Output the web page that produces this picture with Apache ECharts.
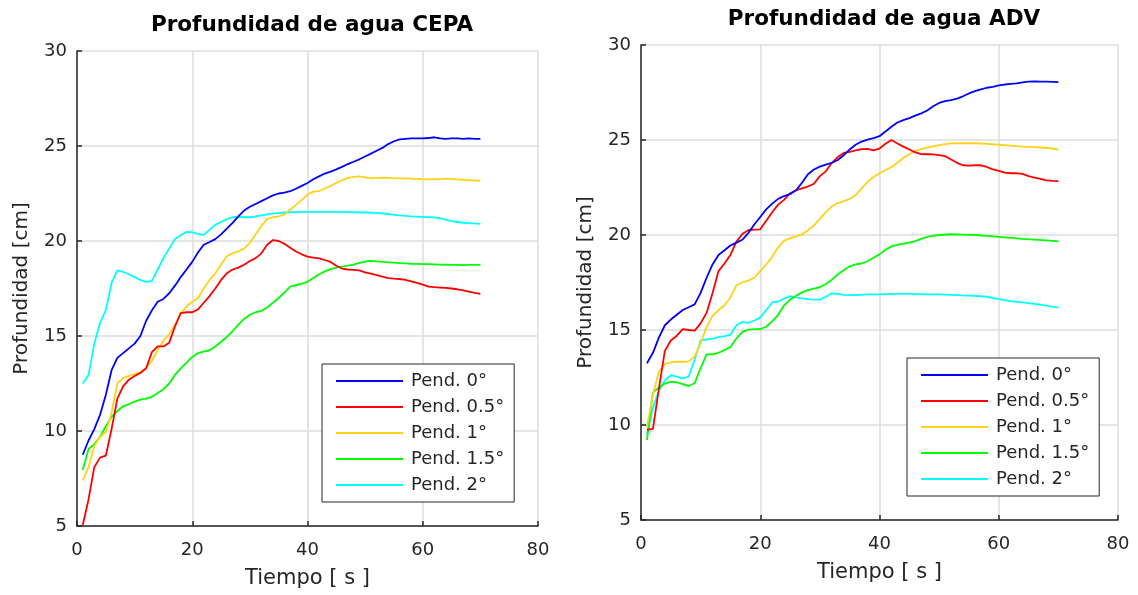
<!DOCTYPE html>
<html>
<head>
<meta charset="utf-8">
<script src="https://cdn.jsdelivr.net/npm/echarts@6/dist/echarts.min.js"></script>
<style>
html,body{margin:0;padding:0;background:#fff;}
#c{width:1138px;height:595px;}
</style>
</head>
<body>
<div id="c"></div>
<script>
const seriesNames = ['Pend. 0°', 'Pend. 0.5°', 'Pend. 1°', 'Pend. 1.5°', 'Pend. 2°'];
const seriesColors = ['#0000ff', '#ff0000', '#ffd21a', '#00ff00', '#00ffff'];
const titles = ['Profundidad de agua CEPA', 'Profundidad de agua ADV'];
const xName = 'Tiempo [ s ]';
const yName = 'Profundidad [cm]';

// CEPA: [tiempo s, profundidad cm]
const cepa0 = [[1,8.75],[2,9.5],[3,10.1],[4,10.85],[5,11.9],[6,13.2],[7,13.85],[8,14.1],[9,14.35],[10,14.6],[11,15.0],[12,15.8],[13,16.35],[14,16.8],[15,16.95],[16,17.25],[17,17.65],[18,18.1],[19,18.5],[20,18.9],[21,19.4],[22,19.8],[23,19.95],[24,20.1],[25,20.35],[26,20.65],[27,20.95],[28,21.3],[29,21.6],[30,21.8],[31,21.95],[32,22.1],[33,22.25],[34,22.4],[35,22.5],[36,22.55],[37,22.62],[38,22.75],[39,22.9],[40,23.05],[41,23.25],[42,23.4],[43,23.55],[44,23.65],[45,23.77],[46,23.9],[47,24.05],[48,24.17],[49,24.3],[50,24.45],[51,24.6],[52,24.75],[53,24.9],[54,25.1],[55,25.25],[56,25.35],[57,25.38],[58,25.4],[59,25.4],[60,25.4],[61,25.42],[62,25.46],[63,25.4],[64,25.38],[65,25.4],[66,25.4],[67,25.38],[68,25.4],[69,25.38],[70,25.38]];
const cepa05 = [[1,5.05],[2,6.4],[3,8.1],[4,8.6],[5,8.7],[6,10.1],[7,11.7],[8,12.35],[9,12.7],[10,12.9],[11,13.05],[12,13.3],[13,14.15],[14,14.45],[15,14.45],[16,14.65],[17,15.5],[18,16.2],[19,16.25],[20,16.25],[21,16.4],[22,16.75],[23,17.1],[24,17.5],[25,17.95],[26,18.3],[27,18.5],[28,18.6],[29,18.75],[30,18.95],[31,19.1],[32,19.35],[33,19.8],[34,20.05],[35,20.0],[36,19.85],[37,19.65],[38,19.45],[39,19.3],[40,19.18],[41,19.12],[42,19.08],[43,19.0],[44,18.9],[45,18.7],[46,18.55],[47,18.5],[48,18.48],[49,18.45],[50,18.35],[51,18.28],[52,18.2],[53,18.12],[54,18.05],[55,18.02],[56,18.0],[57,17.95],[58,17.88],[59,17.8],[60,17.7],[61,17.6],[62,17.57],[63,17.55],[64,17.53],[65,17.5],[66,17.46],[67,17.4],[68,17.33],[69,17.27],[70,17.22]];
const cepa1 = [[1,7.4],[2,8.1],[3,9.2],[4,9.7],[5,9.95],[6,10.95],[7,12.5],[8,12.8],[9,12.9],[10,13.0],[11,13.1],[12,13.3],[13,13.7],[14,14.25],[15,14.75],[16,15.1],[17,15.6],[18,16.2],[19,16.55],[20,16.8],[21,17.0],[22,17.5],[23,17.95],[24,18.3],[25,18.75],[26,19.2],[27,19.35],[28,19.45],[29,19.6],[30,19.9],[31,20.35],[32,20.8],[33,21.15],[34,21.25],[35,21.3],[36,21.4],[37,21.65],[38,21.9],[39,22.15],[40,22.45],[41,22.6],[42,22.63],[43,22.75],[44,22.9],[45,23.05],[46,23.2],[47,23.32],[48,23.38],[49,23.4],[50,23.35],[51,23.3],[52,23.32],[53,23.33],[54,23.32],[55,23.3],[56,23.3],[57,23.3],[58,23.28],[59,23.27],[60,23.25],[61,23.24],[62,23.25],[63,23.26],[64,23.28],[65,23.27],[66,23.24],[67,23.22],[68,23.2],[69,23.18],[70,23.17]];
const cepa15 = [[1,7.95],[2,9.05],[3,9.3],[4,9.7],[5,10.25],[6,10.75],[7,11.05],[8,11.3],[9,11.4],[10,11.55],[11,11.65],[12,11.7],[13,11.8],[14,12.0],[15,12.2],[16,12.5],[17,12.95],[18,13.3],[19,13.6],[20,13.9],[21,14.1],[22,14.18],[23,14.25],[24,14.45],[25,14.7],[26,14.95],[27,15.25],[28,15.6],[29,15.9],[30,16.12],[31,16.25],[32,16.32],[33,16.5],[34,16.75],[35,17.0],[36,17.3],[37,17.6],[38,17.68],[39,17.75],[40,17.85],[41,18.05],[42,18.25],[43,18.4],[44,18.52],[45,18.6],[46,18.65],[47,18.7],[48,18.76],[49,18.85],[50,18.92],[51,18.95],[52,18.93],[53,18.9],[54,18.88],[55,18.86],[56,18.84],[57,18.82],[58,18.8],[59,18.8],[60,18.78],[61,18.78],[62,18.77],[63,18.76],[64,18.75],[65,18.74],[66,18.74],[67,18.73],[68,18.74],[69,18.74],[70,18.74]];
const cepa2 = [[1,12.5],[2,12.95],[3,14.6],[4,15.7],[5,16.35],[6,17.8],[7,18.45],[8,18.38],[9,18.25],[10,18.1],[11,17.95],[12,17.85],[13,17.9],[14,18.5],[15,19.1],[16,19.6],[17,20.1],[18,20.3],[19,20.48],[20,20.45],[21,20.38],[22,20.32],[23,20.6],[24,20.85],[25,21.0],[26,21.15],[27,21.25],[28,21.27],[29,21.25],[30,21.25],[31,21.3],[32,21.35],[33,21.4],[34,21.45],[35,21.47],[36,21.5],[38,21.52],[40,21.53],[45,21.53],[50,21.5],[52,21.48],[54,21.42],[56,21.35],[58,21.3],[60,21.27],[62,21.24],[63,21.2],[64,21.12],[65,21.05],[66,21.0],[67,20.96],[68,20.94],[70,20.9]];

// ADV: [tiempo s, profundidad cm]
const adv0 = [[1,13.25],[2,13.8],[3,14.6],[4,15.25],[5,15.55],[6,15.8],[7,16.05],[8,16.2],[9,16.35],[10,16.95],[11,17.75],[12,18.45],[13,18.95],[14,19.2],[15,19.45],[16,19.6],[17,19.75],[18,20.1],[19,20.55],[20,20.95],[21,21.35],[22,21.65],[23,21.9],[24,22.05],[25,22.15],[26,22.35],[27,22.75],[28,23.2],[29,23.45],[30,23.6],[31,23.7],[32,23.8],[33,23.95],[34,24.2],[35,24.5],[36,24.75],[37,24.92],[38,25.02],[39,25.1],[40,25.2],[41,25.45],[42,25.7],[43,25.92],[44,26.05],[45,26.15],[46,26.28],[47,26.4],[48,26.55],[49,26.78],[50,26.95],[51,27.05],[52,27.1],[53,27.18],[54,27.3],[55,27.45],[56,27.57],[57,27.67],[58,27.75],[59,27.8],[60,27.87],[61,27.92],[62,27.95],[63,27.98],[64,28.03],[65,28.07],[66,28.08],[67,28.07],[68,28.07],[69,28.06],[70,28.05]];
const adv05 = [[1,9.75],[2,9.8],[3,11.9],[4,13.9],[5,14.45],[6,14.7],[7,15.05],[8,15.0],[9,14.97],[10,15.35],[11,15.9],[12,16.95],[13,18.1],[14,18.5],[15,18.95],[16,19.65],[17,20.05],[18,20.25],[19,20.28],[20,20.3],[21,20.75],[22,21.2],[23,21.6],[24,21.85],[25,22.2],[26,22.35],[27,22.45],[28,22.55],[29,22.7],[30,23.1],[31,23.35],[32,23.8],[33,24.1],[34,24.32],[35,24.38],[36,24.45],[37,24.52],[38,24.53],[39,24.45],[40,24.55],[41,24.8],[42,25.0],[43,24.82],[44,24.65],[45,24.5],[46,24.35],[47,24.26],[48,24.25],[49,24.24],[50,24.2],[51,24.15],[52,23.97],[53,23.8],[54,23.67],[55,23.65],[56,23.67],[57,23.67],[58,23.58],[59,23.45],[60,23.38],[61,23.28],[62,23.25],[63,23.25],[64,23.22],[65,23.1],[66,23.02],[67,22.95],[68,22.88],[69,22.85],[70,22.84]];
const adv1 = [[1,9.9],[2,11.6],[3,12.8],[4,13.2],[5,13.3],[6,13.33],[7,13.33],[8,13.35],[9,13.6],[10,14.3],[11,15.15],[12,15.75],[13,16.05],[14,16.3],[15,16.7],[16,17.35],[17,17.5],[18,17.6],[19,17.75],[20,18.1],[21,18.45],[22,18.85],[23,19.35],[24,19.7],[25,19.82],[26,19.93],[27,20.03],[28,20.25],[29,20.5],[30,20.85],[31,21.2],[32,21.5],[33,21.68],[34,21.78],[35,21.9],[36,22.1],[37,22.45],[38,22.8],[39,23.05],[40,23.25],[41,23.42],[42,23.57],[43,23.8],[44,24.05],[45,24.25],[46,24.42],[47,24.52],[48,24.6],[49,24.67],[50,24.73],[51,24.78],[52,24.82],[54,24.83],[56,24.83],[58,24.8],[60,24.75],[62,24.7],[64,24.65],[66,24.62],[68,24.58],[70,24.5]];
const adv15 = [[1,9.2],[2,11.7],[3,11.98],[4,12.18],[5,12.28],[6,12.25],[7,12.15],[8,12.05],[9,12.2],[10,13.0],[11,13.72],[12,13.72],[13,13.8],[14,13.95],[15,14.1],[16,14.55],[17,14.9],[18,15.02],[19,15.05],[20,15.05],[21,15.17],[22,15.45],[23,15.8],[24,16.3],[25,16.6],[26,16.8],[27,16.98],[28,17.1],[29,17.18],[30,17.25],[31,17.42],[32,17.65],[33,17.92],[34,18.15],[35,18.35],[36,18.45],[37,18.5],[38,18.62],[39,18.8],[40,18.98],[41,19.22],[42,19.4],[43,19.48],[44,19.55],[45,19.6],[46,19.68],[47,19.8],[48,19.9],[49,19.96],[50,20.0],[52,20.04],[54,20.02],[56,20.0],[58,19.95],[60,19.9],[62,19.85],[64,19.8],[66,19.76],[68,19.72],[70,19.66]];
const adv2 = [[1,9.5],[2,10.9],[3,11.8],[4,12.35],[5,12.62],[6,12.55],[7,12.45],[8,12.55],[9,13.45],[10,14.45],[11,14.5],[12,14.55],[13,14.62],[14,14.68],[15,14.75],[16,15.25],[17,15.42],[18,15.38],[19,15.5],[20,15.65],[21,16.05],[22,16.45],[23,16.5],[24,16.65],[25,16.78],[26,16.72],[27,16.67],[28,16.63],[29,16.6],[30,16.6],[31,16.75],[32,16.93],[33,16.9],[34,16.85],[36,16.84],[38,16.88],[40,16.88],[42,16.9],[45,16.9],[48,16.88],[50,16.87],[52,16.85],[54,16.82],[56,16.8],[58,16.75],[60,16.62],[62,16.52],[64,16.45],[66,16.38],[68,16.28],[70,16.18]];

const cepaData = [cepa0, cepa05, cepa1, cepa15, cepa2];
const advData = [adv0, adv05, adv1, adv15, adv2];

const FONT = '"DejaVu Sans", Verdana, sans-serif';
const TXT = '#262626';

function xAx(idx) {
  return {
    type: 'value', gridIndex: idx, min: 0, max: 80, interval: 20,
    name: xName, nameLocation: 'middle', nameGap: 42,
    nameTextStyle: { fontFamily: FONT, fontSize: 21, color: TXT },
    axisLine: { show: true, lineStyle: { color: TXT, width: 1.5 } },
    axisTick: { show: true, inside: true, length: 5, lineStyle: { color: TXT, width: 1.5 } },
    axisLabel: { fontFamily: FONT, fontSize: 18, color: TXT, margin: 15 },
    splitLine: { show: true, lineStyle: { color: '#dcdcdc', width: 1.5 } }
  };
}
function yAx(idx) {
  return {
    type: 'value', gridIndex: idx, min: 5, max: 30, interval: 5,
    name: yName, nameLocation: 'middle', nameGap: 45, nameRotate: 90,
    nameTextStyle: { fontFamily: FONT, fontSize: 20, color: TXT },
    axisLine: { show: true, lineStyle: { color: TXT, width: 1.5 } },
    axisTick: { show: true, inside: true, length: 5, lineStyle: { color: TXT, width: 1.5 } },
    axisLabel: { fontFamily: FONT, fontSize: 18, color: TXT, margin: 10 },
    splitLine: { show: true, lineStyle: { color: '#dcdcdc', width: 1.5 } }
  };
}
function legendAt(left, top) {
  return {
    orient: 'vertical', left: left, top: top,
    data: seriesNames,
    icon: 'rect', itemWidth: 67, itemHeight: 2, itemGap: 6,
    padding: [7, 10, 7, 14],
    borderColor: TXT, borderWidth: 1, backgroundColor: '#fff',
    selectedMode: false,
    textStyle: { fontFamily: FONT, fontSize: 18, color: TXT, lineHeight: 20, padding: [0, 0, 0, 3] }
  };
}

const series = [];
seriesNames.forEach((n, i) => {
  series.push({ name: n, type: 'line', xAxisIndex: 0, yAxisIndex: 0, data: cepaData[i],
    showSymbol: false, symbol: 'none', lineStyle: { width: 1.8, color: seriesColors[i] }, itemStyle: { color: seriesColors[i] }, z: 3 + (4 - i) });
});
seriesNames.forEach((n, i) => {
  series.push({ name: n, type: 'line', xAxisIndex: 1, yAxisIndex: 1, data: advData[i],
    showSymbol: false, symbol: 'none', lineStyle: { width: 1.8, color: seriesColors[i] }, itemStyle: { color: seriesColors[i] }, z: 3 + (4 - i) });
});

const chart = echarts.init(document.getElementById('c'), null, { renderer: 'canvas' });
chart.setOption({
  animation: false,
  backgroundColor: '#fff',
  title: [
    { text: titles[0], left: 307, top: 9, textAlign: 'center',
      textStyle: { fontFamily: FONT, fontSize: 21.5, fontWeight: 'bold', color: '#000' } },
    { text: titles[1], left: 879, top: 3, textAlign: 'center',
      textStyle: { fontFamily: FONT, fontSize: 21.5, fontWeight: 'bold', color: '#000' } }
  ],
  grid: [
    { left: 77, top: 51, width: 461, height: 475 },
    { left: 641, top: 45, width: 477, height: 475 }
  ],
  xAxis: [xAx(0), xAx(1)],
  yAxis: [yAx(0), yAx(1)],
  legend: [legendAt(322, 364), legendAt(907, 358)],
  series: series
});
</script>
</body>
</html>
